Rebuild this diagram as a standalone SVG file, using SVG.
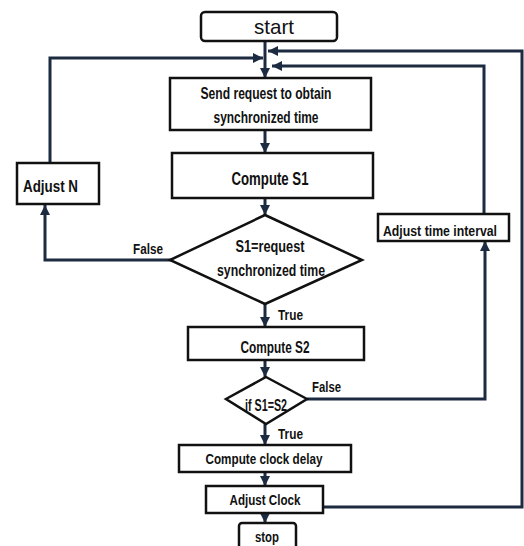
<svg xmlns="http://www.w3.org/2000/svg" width="524" height="546" viewBox="0 0 524 546">
<style>
.box{fill:#fff;stroke:#111;stroke-width:2.5}
.c{fill:none;stroke:#1c2b40;stroke-width:3}
.t{font-family:"Liberation Sans",Arial,sans-serif;font-weight:bold;fill:#111;text-anchor:middle}
.l{font-family:"Liberation Sans",Arial,sans-serif;font-weight:bold;fill:#111}
</style>
<defs>
<marker id="ah" viewBox="0 0 10 10" refX="10" refY="5" markerWidth="10" markerHeight="10" markerUnits="userSpaceOnUse" orient="auto">
<path d="M0,0 L10,5 L0,10 Z" fill="#1c2b40"/>
</marker>
</defs>
<rect width="524" height="546" fill="#fff"/>
<g id="connectors">
<line class="c" x1="265" y1="41" x2="265" y2="78" marker-end="url(#ah)"/>
<line class="c" x1="265" y1="130" x2="265" y2="153" marker-end="url(#ah)"/>
<line class="c" x1="265" y1="198" x2="265" y2="215" marker-end="url(#ah)"/>
<path class="c" d="M172,260 H45 V205" marker-end="url(#ah)"/>
<path class="c" d="M50,163 V58 H263" marker-end="url(#ah)"/>
<line class="c" x1="265" y1="304" x2="265" y2="327" marker-end="url(#ah)"/>
<line class="c" x1="265" y1="360" x2="265" y2="377" marker-end="url(#ah)"/>
<path class="c" d="M307,399 H485 V241" marker-end="url(#ah)"/>
<path class="c" d="M484,214 V66 H272" marker-end="url(#ah)"/>
<line class="c" x1="265" y1="424" x2="265" y2="445" marker-end="url(#ah)"/>
<line class="c" x1="265" y1="472" x2="265" y2="486" marker-end="url(#ah)"/>
<path class="c" d="M323,507 H522 V51 H268" marker-end="url(#ah)"/>
<line class="c" x1="265" y1="513" x2="265" y2="523" marker-end="url(#ah)"/>
</g>
<g id="start">
<rect class="box" x="201" y="12" width="136" height="29" rx="4"/>
<text x="274" y="34" font-family="'Liberation Sans',Arial,sans-serif" font-size="21" text-anchor="middle" fill="#111" textLength="40" lengthAdjust="spacingAndGlyphs">start</text>
</g>
<g id="send">
<rect class="box" x="170" y="78" width="201" height="52"/>
<text class="t" x="266" y="99" font-size="16" textLength="131" lengthAdjust="spacingAndGlyphs">Send request to obtain</text>
<text class="t" x="266" y="123" font-size="16" textLength="105" lengthAdjust="spacingAndGlyphs">synchronized time</text>
</g>
<g id="computeS1">
<rect class="box" x="172" y="153" width="201" height="45"/>
<text class="t" x="270" y="185" font-size="18" textLength="77" lengthAdjust="spacingAndGlyphs">Compute S1</text>
</g>
<g id="adjustN">
<rect class="box" x="17" y="163" width="82" height="41"/>
<text class="l" x="23" y="192" font-size="17" textLength="55" lengthAdjust="spacingAndGlyphs">Adjust N</text>
</g>
<g id="decision1">
<polygon class="box" points="265,215 362,260 265,304 170,260"/>
<text class="t" x="270" y="252" font-size="16" textLength="69" lengthAdjust="spacingAndGlyphs">S1=request</text>
<text class="t" x="271" y="276" font-size="16" textLength="108" lengthAdjust="spacingAndGlyphs">synchronized  time</text>
<text class="l" x="133" y="254" font-size="15" textLength="30" lengthAdjust="spacingAndGlyphs">False</text>
<text class="l" x="278" y="320" font-size="15" textLength="25" lengthAdjust="spacingAndGlyphs">True</text>
</g>
<g id="adjustInterval">
<rect class="box" x="378" y="214" width="131" height="27"/>
<text class="l" x="383" y="236" font-size="15" textLength="114" lengthAdjust="spacingAndGlyphs">Adjust time interval</text>
</g>
<g id="computeS2">
<rect class="box" x="188" y="327" width="176" height="33"/>
<text class="t" x="275" y="353" font-size="16" textLength="69" lengthAdjust="spacingAndGlyphs">Compute S2</text>
</g>
<g id="decision2">
<polygon class="box" points="266,377 307,399 266,424 226,399"/>
<text class="t" x="266" y="411" font-size="16" textLength="42" lengthAdjust="spacingAndGlyphs">if S1=S2</text>
<text class="l" x="312" y="392" font-size="15" textLength="29" lengthAdjust="spacingAndGlyphs">False</text>
<text class="l" x="278" y="439" font-size="15" textLength="25" lengthAdjust="spacingAndGlyphs">True</text>
</g>
<g id="clockDelay">
<rect class="box" x="179" y="445" width="172" height="27"/>
<text class="t" x="264" y="464" font-size="15" textLength="117" lengthAdjust="spacingAndGlyphs">Compute clock delay</text>
</g>
<g id="adjustClock">
<rect class="box" x="206" y="486" width="117" height="27"/>
<text class="t" x="265" y="505" font-size="15" textLength="71" lengthAdjust="spacingAndGlyphs">Adjust Clock</text>
</g>
<g id="stop">
<rect class="box" x="239" y="523" width="57" height="30" rx="3"/>
<text class="t" x="267" y="542" font-size="15" textLength="24" lengthAdjust="spacingAndGlyphs">stop</text>
</g>
</svg>
